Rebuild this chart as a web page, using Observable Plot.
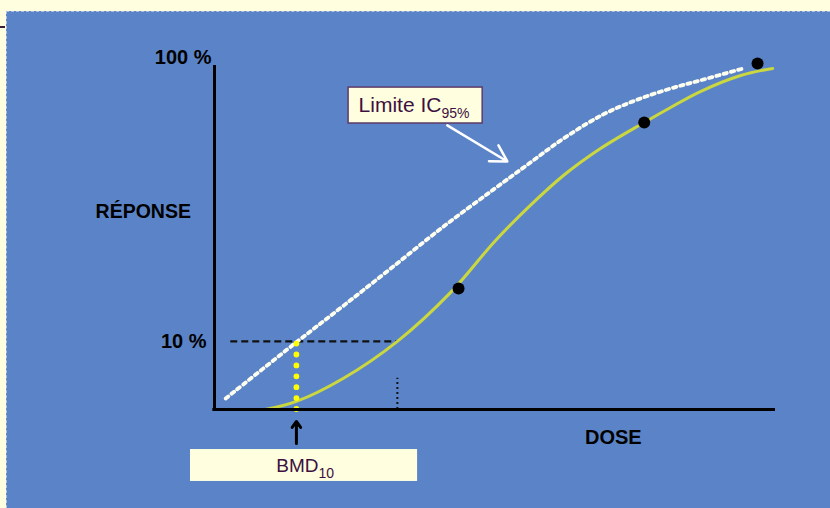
<!DOCTYPE html>
<html>
<head>
<meta charset="utf-8">
<script src="https://cdn.jsdelivr.net/npm/d3@7"></script>
<script src="https://cdn.jsdelivr.net/npm/@observablehq/plot@0.6"></script>
<style>
  html, body { margin: 0; padding: 0; }
  body { width: 830px; height: 508px; overflow: hidden; background: #ffffe0; font-family: "Liberation Sans", Arial, sans-serif; }
  #wrap { position: relative; width: 830px; height: 508px; background: #ffffe0; }
  #panel { position: absolute; left: 6px; top: 11px; right: 0; bottom: 0; background: #5b84c8;
           border-left: 1px dashed #aebfdf; border-top: 1px dashed #aebfdf; }
  #mark { position: absolute; left: 0; top: 26px; width: 5px; height: 2px; background: #3b1b3b; }
  #chart { position: absolute; left: 0; top: 0; }
</style>
</head>
<body>
<div id="wrap"><div id="panel"></div><div id="mark"></div><div id="chart"></div></div>
<script>
// ---- data (dose in arbitrary units 0–100, response in %) ----
const fitDose = [9.1, 14.6, 23.0, 32.6, 42.1, 50.1, 56.3, 62.2, 68.8, 76.6, 81.3, 86.6, 93.8, 99.5];
const fitResp = [0, 0.48, 3.3, 10.0, 21.6, 36.4, 47.6, 57.8, 67.5, 77.3, 83.1, 89.4, 95.9, 98.8];

const ciDose = [2.0, 14.8, 23.0, 31.4, 40.8, 49.7, 56.3, 62.2, 69.3, 75.4, 81.3, 86.6, 94.3];
const ciResp = [0.75, 10.0, 18.2, 28.1, 40.7, 52.9, 62.4, 71.2, 80.4, 86.2, 90.6, 93.9, 98.8];

const obsDose = [43.5, 76.6, 96.8];
const obsResp = [22.6, 77.3, 100.8];

const yTicks = [10, 100];
const yTickLabels = ["10 %", "100 %"];

const bmd = 14.6;        // BMD10 dose
const bmr = 10;          // benchmark response (%)
const refDose = 32.6;    // dose where fitted curve reaches 10 %

const fit = fitDose.map((d, i) => ({dose: d, resp: fitResp[i]}));
const ci = ciDose.map((d, i) => ({dose: d, resp: ciResp[i]}));
const obs = obsDose.map((d, i) => ({dose: d, resp: obsResp[i]}));

const FONT = "'Liberation Sans', Arial, sans-serif";
const INK = "#3d1040";
const CREAM = "#ffffe0";

const chart = Plot.plot({
  width: 830,
  height: 508,
  marginLeft: 214,
  marginRight: 55,
  marginTop: 65,
  marginBottom: 99,
  style: {background: "transparent", overflow: "visible", fontFamily: FONT},
  x: {domain: [0, 100], axis: null},
  y: {type: "pow", exponent: 0.703, domain: [0, 100], axis: null},
  marks: [
    // reference lines
    Plot.ruleY([bmr], {x1: 2.9, x2: refDose, stroke: "#111", strokeWidth: 2.2, strokeDasharray: "7 4"}),
    Plot.ruleX([refDose], {y1: 0, y2: 3.3, stroke: "#111", strokeWidth: 2, strokeDasharray: "2 3"}),
    // confidence limit (dotted white)
    Plot.line(ci, {x: "dose", y: "resp", curve: "catmull-rom", stroke: "#fffff0", strokeWidth: 3.8, strokeDasharray: "3.3 4.2"}),
    // fitted curve
    Plot.line(fit, {x: "dose", y: "resp", curve: "catmull-rom", stroke: "#cbd73e", strokeWidth: 3}),
    // BMD vertical (yellow dots)
    Plot.ruleX([bmd], {y1: 0, y2: bmr, stroke: "#ffff00", strokeWidth: 5.8, strokeLinecap: "round", strokeDasharray: "0 10.9"}),
    // observations
    Plot.dot(obs, {x: "dose", y: "resp", r: 6, fill: "#000"}),
    // axes
    Plot.ruleX([0], {y1: 0, y2: 100, stroke: "#000", strokeWidth: 3}),
    Plot.ruleY([0], {x1: -0.3, x2: 100, stroke: "#000", strokeWidth: 3}),
    Plot.text([yTicks[1]], {x: 0, y: d => d, text: () => yTickLabels[1], textAnchor: "end", dx: -3, dy: -8, fontSize: 20, fontWeight: "bold", fill: "#000"}),
    Plot.text([yTicks[0]], {x: 0, y: d => d, text: () => yTickLabels[0], textAnchor: "end", dx: -8, fontSize: 20, fontWeight: "bold", fill: "#000"}),
    Plot.text(["RÉPONSE"], {x: -12.7, y: 45.6, text: d => d, fontSize: 19.5, fontWeight: "bold", fill: "#000"}),
    Plot.text(["DOSE"], {x: 71.1, y: 0, dy: 28, text: d => d, fontSize: 20, fontWeight: "bold", fill: "#000"}),
    // Limite IC95% annotation
    Plot.rect([0], {x1: 23.9, x2: 47.8, y1: 76.9, y2: 91.0, fill: CREAM, stroke: "#5e3a66", strokeWidth: 1.5}),
    Plot.text(["Limite IC"], {x: 40.46, y: 83.9, text: d => d, textAnchor: "end", fontSize: 21, fill: INK}),
    Plot.text(["95%"], {x: 40.46, y: 83.9, dy: 8.5, text: d => d, textAnchor: "start", fontSize: 14, fill: INK}),
    Plot.arrow([0], {x1: 41.5, y1: 76.2, x2: 52.2, y2: 62.8, stroke: "#ffffff", strokeWidth: 2.5, headLength: 11}),
    // BMD10 annotation
    Plot.arrow([0], {x1: bmd, y1: -3.72, x2: bmd, y2: -0.84, stroke: "#000", strokeWidth: 3, headLength: 8, headAngle: 70}),
    Plot.rect([0], {x1: -4.28, x2: 36.2, y1: -4.69, y2: -10.8, fill: CREAM}),
    Plot.text(["BMD"], {x: 18.54, y: -7.56, text: d => d, textAnchor: "end", fontSize: 19, fill: INK}),
    Plot.text(["10"], {x: 18.54, y: -7.56, dy: 8, text: d => d, textAnchor: "start", fontSize: 14, fill: INK})
  ]
});
document.getElementById("chart").appendChild(chart);
</script>
</body>
</html>
